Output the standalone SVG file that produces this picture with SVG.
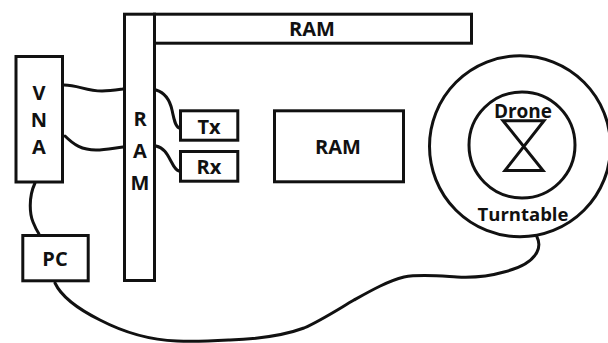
<svg xmlns="http://www.w3.org/2000/svg" width="608" height="343" viewBox="0 0 608 343">
<style>
.b{fill:#fff;stroke:#111;stroke-width:3}
.c{fill:none;stroke:#111;stroke-width:3;stroke-linecap:round}
.n{fill:none;stroke:#111;stroke-width:3}
text{font-family:"Open Sans","Liberation Sans",sans-serif;font-weight:700;font-size:20px;fill:#111;text-anchor:middle}
</style>
<rect width="608" height="343" fill="#fff"/>
<g id="connectors">
<path class="c" d="M64 85C78 85 86 91 102 91C110 91 116 90 123 89"/>
<path class="c" d="M65 136C74 145 82 150 96 150C106 150 114 148 123 147"/>
<path class="c" d="M156 90C166 93 170 101 172 110C174 119 175 126 179 128"/>
<path class="c" d="M156 146C165 148 168 156 172 163C174 167 176 170 179 171"/>
<path class="c" d="M35 183C28 198 30 215 33 222C35 227 37 231 39 234"/>
<path class="c" d="M55 283C62 298 80 310 100 320C125 333 150 340 177 341C195 342 212 341 230 340C258 339 285 335 304 328C320 321 337 310 354 300C372 290 388 281 404 277C420 274 440 276 457 277C475 278 490 276 504 272C520 268 532 262 537 252C540 246 539 241 537 237"/>
</g>
<g id="ram-top"><rect class="b" x="154.5" y="14.2" width="317" height="29"/><text x="312" y="36">RAM</text></g>
<g id="ram-left"><rect class="b" x="124.5" y="14.2" width="30" height="266.3"/><text x="140" y="126">R</text><text x="140" y="158">A</text><text x="140" y="190">M</text></g>
<g id="vna"><rect class="b" x="16" y="56.5" width="46.5" height="125.5"/><text x="39" y="100">V</text><text x="39" y="127">N</text><text x="39" y="154">A</text></g>
<g id="tx"><rect class="b" x="180.5" y="110.8" width="57.3" height="29.4"/><text x="209" y="134">Tx</text></g>
<g id="rx"><rect class="b" x="180.5" y="151.5" width="57.3" height="29.7"/><text x="209" y="174">Rx</text></g>
<g id="pc"><rect class="b" x="22.8" y="235.5" width="65.4" height="45.3"/><text x="55" y="266">PC</text></g>
<g id="ram-mid"><rect class="b" x="274.5" y="110.8" width="129" height="71"/><text x="338" y="154">RAM</text></g>
<g id="turntable"><circle class="n" cx="520" cy="146.3" r="90.5"/><circle class="n" cx="522" cy="145" r="53"/><text x="523" y="220.5" font-size="18" style="font-size:18.5px">Turntable</text></g>
<g id="drone"><path class="n" d="M503 120.7H544L505 170.5H543Z"/><text x="523" y="118" style="font-size:19px">Drone</text></g>
</svg>
